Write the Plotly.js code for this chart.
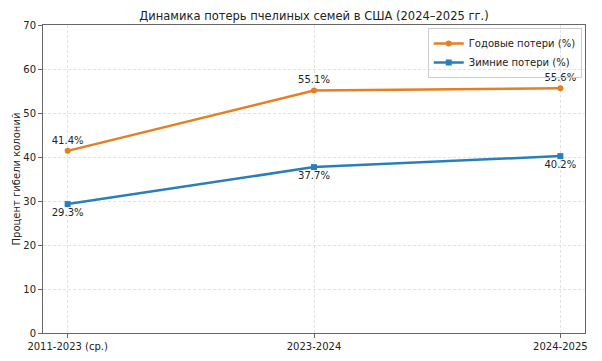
<!DOCTYPE html>
<html>
<head>
<meta charset="utf-8">
<script src="https://cdn.plot.ly/plotly-3.0.1.min.js"></script>
<style>html,body{margin:0;padding:0;background:#fff;}#chart{width:602px;height:361px;}</style>
</head>
<body>
<div id="chart"></div>
<script>
const categories = ["2011-2023 (ср.)", "2023-2024", "2024-2025"];
const annualLoss = [41.4, 55.1, 55.6];
const winterLoss = [29.3, 37.7, 40.2];
const seriesNames = ["Годовые потери (%)", "Зимние потери (%)"];
const yTicks = [0, 10, 20, 30, 40, 50, 60, 70];

const xIdx = categories.map((_, i) => i);
const fmt = v => v.toFixed(1) + "%";
const font = "DejaVu Sans, sans-serif";
const fs = 10;

const traces = [
  {
    x: xIdx, y: annualLoss, name: seriesNames[0],
    mode: "lines+markers+text",
    text: annualLoss.map(fmt), textposition: "top center",
    textfont: {family: font, size: fs, color: "#222"},
    line: {color: "#e67e22", width: 2.5},
    marker: {symbol: "circle", size: 6, color: "#e67e22"},
    cliponaxis: false
  },
  {
    x: xIdx, y: winterLoss, name: seriesNames[1],
    mode: "lines+markers+text",
    text: winterLoss.map(fmt), textposition: "bottom center",
    textfont: {family: font, size: fs, color: "#222"},
    line: {color: "#2980b9", width: 2.5},
    marker: {symbol: "square", size: 6, color: "#2980b9"},
    cliponaxis: false
  }
];

const layout = {
  width: 602, height: 361,
  margin: {l: 43, r: 17, t: 25, b: 28},
  paper_bgcolor: "#fff", plot_bgcolor: "#fff",
  font: {family: font, size: fs, color: "#222"},
  title: {text: "Динамика потерь пчелиных семей в США (2024–2025 гг.)", font: {family: font, size: 11.5, color: "#222"}, xref: "paper", x: 0.5, xanchor: "center", yref: "container", y: 0.955, yanchor: "middle"},
  xaxis: {
    range: [-0.1, 2.1], tickmode: "array", tickvals: xIdx, ticktext: categories,
    showgrid: true, gridcolor: "#dcdcdc", griddash: "3px,2px", gridwidth: 0.8,
    showline: true, linecolor: "#666", linewidth: 1, mirror: true,
    ticks: "outside", ticklen: 4, tickcolor: "#666",
    tickfont: {family: font, size: fs, color: "#222"}, zeroline: false
  },
  yaxis: {
    range: [0, 70], tickmode: "array", tickvals: yTicks,
    showgrid: true, gridcolor: "#dcdcdc", griddash: "3px,2px", gridwidth: 0.8,
    showline: true, linecolor: "#666", linewidth: 1, mirror: true,
    ticks: "outside", ticklen: 4, tickcolor: "#666",
    tickfont: {family: font, size: fs, color: "#222"}, zeroline: false,
    title: {text: "Процент гибели колоний", font: {family: font, size: fs, color: "#222"}, standoff: 0}
  },
  legend: {
    x: 0.994, y: 0.99, xanchor: "right", yanchor: "top",
    bgcolor: "rgba(255,255,255,0)", bordercolor: "#ccc", borderwidth: 1,
    font: {family: font, size: fs, color: "#222"}, tracegroupgap: 0
  },
  showlegend: true
};

Plotly.newPlot("chart", traces, layout, {displayModeBar: false, staticPlot: true});
</script>
</body>
</html>
